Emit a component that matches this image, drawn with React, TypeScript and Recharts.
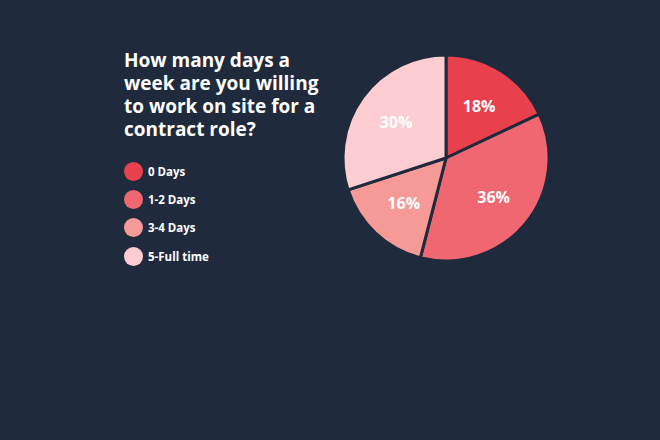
import React from 'react';
import { PieChart, Pie, Cell } from 'recharts';

const categories = ['0 Days', '1-2 Days', '3-4 Days', '5-Full time'];
const shares = [18, 36, 16, 30];
const colors = ['#e8414d', '#f06771', '#f59a97', '#fecdd1'];
const titleLines = ['How many days a', 'week are you willing', 'to work on site for a', 'contract role?'];

const BG = '#1f2b3c';
const data = categories.map((name, i) => ({ name, value: shares[i] }));

const RAD = Math.PI / 180;
const FONT = 'Open Sans, sans-serif';

const renderLabel = (props: any) => {
  const { cx, cy, midAngle, outerRadius, value } = props;
  const r = outerRadius * 0.6;
  const x = cx + r * Math.cos(-midAngle * RAD);
  const y = cy + r * Math.sin(-midAngle * RAD);
  return (
    <text
      x={x}
      y={y}
      fill="#ffffff"
      textAnchor="middle"
      dominantBaseline="central"
      style={{ fontFamily: FONT, fontWeight: 700, fontSize: 16 }}
    >
      {`${value}%`}
    </text>
  );
};

export default function App() {
  return (
    <div style={{ position: 'fixed', left: 0, top: 0, width: 660, height: 440, background: BG, overflow: 'hidden' }}>
      <div
        style={{
          position: 'absolute',
          left: 124,
          top: 49,
          color: '#ffffff',
          fontFamily: FONT,
          fontWeight: 700,
          fontSize: 19,
          lineHeight: '23px',
          whiteSpace: 'nowrap',
        }}
      >
        {titleLines.map((l, i) => (
          <div key={i}>{l}</div>
        ))}
      </div>
      <div style={{ position: 'absolute', left: 124, top: 157, fontFamily: FONT }}>
        {data.map((d, i) => (
          <div key={d.name} style={{ display: 'flex', alignItems: 'center', height: 28.3 }}>
            <span
              style={{
                display: 'inline-block',
                width: 19,
                height: 19,
                borderRadius: '50%',
                background: colors[i],
                marginRight: 5,
              }}
            />
            <span style={{ color: '#ffffff', fontWeight: 700, fontSize: 11.5 }}>{d.name}</span>
          </div>
        ))}
      </div>
      <div style={{ position: 'absolute', left: 0, top: 0 }}>
        <PieChart width={660} height={440} margin={{ top: 0, right: 0, bottom: 0, left: 0 }}>
          <Pie
            data={data}
            dataKey="value"
            nameKey="name"
            cx={446}
            cy={158}
            outerRadius={103}
            startAngle={90}
            endAngle={-270}
            stroke={BG}
            strokeWidth={3}
            label={renderLabel}
            labelLine={false}
            isAnimationActive={false}
          >
            {data.map((d, i) => (
              <Cell key={d.name} fill={colors[i]} />
            ))}
          </Pie>
        </PieChart>
      </div>
    </div>
  );
}
